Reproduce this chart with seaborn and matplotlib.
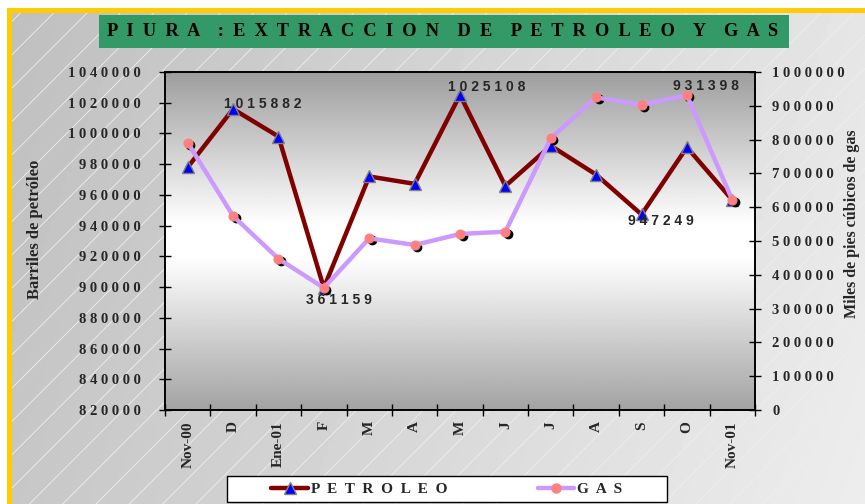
import matplotlib
matplotlib.use('Agg')
import matplotlib.pyplot as plt
import matplotlib.transforms as mtransforms
from matplotlib.patches import Rectangle
from matplotlib.lines import Line2D
from matplotlib.ticker import FixedLocator, FuncFormatter
import seaborn as sns
import numpy as np

# data
meses = ['Nov-00', 'D', 'Ene-01', 'F', 'M', 'A', 'M', 'J', 'J', 'A', 'S', 'O', 'Nov-01']
petroleo = [978000, 1015882, 998000, 899500, 972000, 967200, 1025108,
            965800, 992000, 973200, 947249, 991000, 956700]
gas = [790800, 574000, 447600, 361159, 508000, 488200, 520700,
       527600, 803800, 925000, 902400, 931398, 621300]
# which points carry a value label
etiq_petroleo = [1, 6, 10]
etiq_gas = [3, 11]

sns.set_theme(style='ticks')
plt.rcParams['font.family'] = ['Liberation Serif', 'DejaVu Serif']
plt.rcParams['hatch.linewidth'] = 0.6


def espaciar(s, sep=' '):
    return sep.join(s)


W, H = 865, 504
fig = plt.figure(figsize=(W / 100, H / 100), dpi=100)
fig.patch.set_facecolor('white')

# background layer in pixel coordinates
bg = fig.add_axes([0, 0, 1, 1], zorder=-1)
bg.set_xlim(0, W)
bg.set_ylim(H, 0)
bg.axis('off')
gx = np.linspace(0, 1, 200)
gy = np.linspace(0, 1, 120)
grad = 0.75 + 0.15 * gx[None, :] + 0.03 * gy[:, None]
bg.imshow(grad, extent=[12, W, H, 12], cmap='gray', vmin=0, vmax=1, aspect='auto')
bg.add_patch(Rectangle((12, 12), W - 12, H - 12, fill=False, hatch='/',
                       edgecolor='#eeeeee', lw=0))
bg.add_patch(Rectangle((7, 8), W - 7, 4.5, color='#ffcc00', lw=0))
bg.add_patch(Rectangle((7, 8), 5, H - 8, color='#ffcc00', lw=0))
bg.add_patch(Rectangle((99, 15), 690, 33, color='#339966', lw=0))
titulo = (espaciar('PIURA', '  ') + '    :  ' +
          '    '.join(espaciar(w, '  ') for w in ['EXTRACCION', 'DE', 'PETROLEO', 'Y', 'GAS']))
bg.text(443, 32, titulo, ha='center', va='center', fontsize=13.2,
        fontweight='bold', color='black')
bg.add_patch(Rectangle((227, 476), 440, 26, facecolor='white', edgecolor='black', lw=1))

# main axes
ax = fig.add_axes([165 / W, 1 - 410 / H, 590 / W, 338 / H])
ax2 = ax.twinx()
x = np.arange(len(meses))

pos = np.linspace(0, 1, 256)
val = np.interp(pos, [0, 0.45, 0.55, 1], [0.64, 1.0, 1.0, 0.62])
ax.imshow(val[:, None], extent=[-0.5, len(meses) - 0.5, 820000, 1040000],
          origin='lower', cmap='gray', vmin=0, vmax=1, aspect='auto', zorder=0)

# shadows under the gas markers
sh2 = mtransforms.offset_copy(ax2.transData, fig=fig, x=2.5, y=-2, units='dots')
ax2.plot(x, gas, 'o', color='black', markersize=6, transform=sh2, zorder=1)

sns.lineplot(x=x, y=petroleo, ax=ax, color='#800000', lw=3.2, marker='^',
             markersize=8, markerfacecolor='#0000ff', markeredgecolor='#808080',
             markeredgewidth=1, legend=False, zorder=3)
sns.lineplot(x=x, y=gas, ax=ax2, color='#cc99ff', lw=3.2, marker='o',
             markersize=6.5, markerfacecolor='#ff8080', markeredgecolor='#ff8080',
             legend=False, zorder=3)

ax.set_xlim(-0.5, len(meses) - 0.5)
ax.set_ylim(820000, 1040000)
ax2.set_ylim(0, 1000000)
ax.set_yticks(np.arange(820000, 1040001, 20000))
ax2.set_yticks(np.arange(0, 1000001, 100000))
fmt = FuncFormatter(lambda v, p: espaciar(str(int(v))))
ax.yaxis.set_major_formatter(fmt)
ax2.yaxis.set_major_formatter(fmt)

ax.xaxis.set_major_locator(FixedLocator(np.arange(-0.5, len(meses), 1)))
ax.xaxis.set_minor_locator(FixedLocator(x))
ax.set_xticklabels([])
ax.set_xticklabels(meses, minor=True, rotation=90, fontsize=11, fontweight='bold')
ax.tick_params(axis='x', which='minor', length=0, pad=8)
ax.tick_params(axis='x', which='major', direction='inout', length=8, width=1, color='black')
ax.tick_params(axis='y', direction='inout', length=9, width=1, color='black',
               labelsize=10.5, pad=13)
ax2.tick_params(axis='y', direction='inout', length=9, width=1, color='black',
                labelsize=10.5, pad=8)
for lab in ax.get_yticklabels() + ax2.get_yticklabels():
    lab.set_fontweight('bold')
for a in (ax, ax2):
    for s in a.spines.values():
        s.set_color('black')
        s.set_linewidth(1.2)
ax.set_xlabel('')
ax.set_ylabel('')
ax2.set_ylabel('')

fig.text(35 / W, 1 - 229 / H, 'Barriles de petróleo', rotation=90, ha='center',
         va='center', fontsize=12, fontweight='bold')
fig.text(852 / W, 1 - 224 / H, 'Miles de pies cúbicos de gas', rotation=90,
         ha='center', va='center', fontsize=11.5, fontweight='bold')

# value labels
offs_p = {1: (30, 5), 6: (27, 8), 10: (19, -7)}
offs_g = {3: (15, -12), 11: (19, 9)}
for i in etiq_petroleo:
    ax.annotate(espaciar(str(petroleo[i])), (x[i], petroleo[i]), xytext=offs_p[i],
                textcoords='offset pixels', ha='center', va='center', fontsize=10,
                fontweight='bold', family=['Liberation Sans', 'DejaVu Sans'], zorder=5)
for i in etiq_gas:
    ax2.annotate(espaciar(str(gas[i])), (x[i], gas[i]), xytext=offs_g[i],
                 textcoords='offset pixels', ha='center', va='center', fontsize=10,
                 fontweight='bold', family=['Liberation Sans', 'DejaVu Sans'], zorder=5)

# legend
h1 = Line2D([], [], color='#800000', lw=3.2, marker='^', markersize=8,
            markerfacecolor='#0000ff', markeredgecolor='#808080')
h2 = Line2D([], [], color='#cc99ff', lw=3.2, marker='o', markersize=6.5,
            markerfacecolor='#ff8080', markeredgecolor='#ff8080')
fig.legend([h1, h2], [espaciar('PETROLEO', '  '), espaciar('GAS', '  ')],
           loc='center', bbox_to_anchor=(447 / W, 1 - 489 / H), ncol=2,
           frameon=False, handlelength=2.4, handletextpad=0.2, columnspacing=5.9,
           prop={'weight': 'bold', 'size': 11})

fig.savefig('out.png', dpi=100)
